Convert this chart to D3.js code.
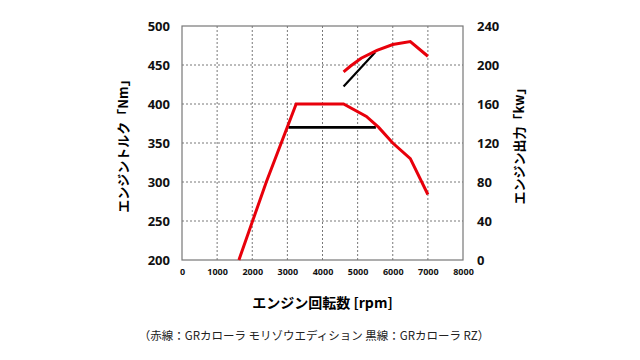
<!DOCTYPE html>
<html>
<head>
<meta charset="utf-8">
<script src="https://cdn.jsdelivr.net/npm/d3@7"></script>
<style>
  body { margin: 0; background: #fff; }
  svg text { font-family: "Noto Sans CJK JP", "Noto Sans", sans-serif; }
</style>
</head>
<body>
<div id="chart"></div>
<script>
// red = モリゾウエディション, black = RZ
const redTorque = [[1620, 200], [2400, 300], [3250, 400], [4600, 400], [5250, 384], [5600, 370], [6000, 350], [6500, 330], [7000, 284]];
const redPower = [[4600, 193], [4800, 199], [5100, 207], [5550, 215], [6000, 221], [6500, 224], [7000, 209]];
const blackTorque = [[3030, 370], [5520, 370]];
const blackPower = [[4600, 178], [5500, 213]];

const xTicks = [0, 1000, 2000, 3000, 4000, 5000, 6000, 7000, 8000];
const torqueTicks = [200, 250, 300, 350, 400, 450, 500];
const powerTicks = [0, 40, 80, 120, 160, 200, 240];

const width = 640, height = 360;
const plot = {left: 182, right: 463, top: 26, bottom: 260};

const svg = d3.select('#chart')
  .append('svg')
  .attr('width', width)
  .attr('height', height);

const x = d3.scaleLinear().domain([0, 8000]).range([plot.left, plot.right]);
const yL = d3.scaleLinear().domain([200, 500]).range([plot.bottom, plot.top]);
const yR = d3.scaleLinear().domain([0, 240]).range([plot.bottom, plot.top]);

// grid
svg.append('g')
  .selectAll('line')
  .data(xTicks.slice(1, -1))
  .enter()
  .append('line')
  .attr('x1', d => x(d)).attr('x2', d => x(d))
  .attr('y1', plot.top).attr('y2', plot.bottom)
  .attr('stroke', '#555').attr('stroke-width', 0.8)
  .attr('stroke-dasharray', '2,2');

svg.append('g')
  .selectAll('line')
  .data(torqueTicks.slice(1, -1))
  .enter()
  .append('line')
  .attr('x1', plot.left).attr('x2', plot.right)
  .attr('y1', d => yL(d)).attr('y2', d => yL(d))
  .attr('stroke', '#555').attr('stroke-width', 0.8)
  .attr('stroke-dasharray', '2,2');

// frame
svg.append('rect')
  .attr('x', plot.left).attr('y', plot.top)
  .attr('width', plot.right - plot.left).attr('height', plot.bottom - plot.top)
  .attr('fill', 'none').attr('stroke', '#777').attr('stroke-width', 1.2);

// axes
const xAxis = svg.append('g')
  .attr('transform', 'translate(0,' + plot.bottom + ')')
  .call(d3.axisBottom(x).tickValues(xTicks).tickFormat(d3.format('d')).tickSize(0).tickPadding(9));
const lAxis = svg.append('g')
  .attr('transform', 'translate(' + plot.left + ',0)')
  .call(d3.axisLeft(yL).tickValues(torqueTicks).tickSize(0).tickPadding(12));
const rAxis = svg.append('g')
  .attr('transform', 'translate(' + plot.right + ',0)')
  .call(d3.axisRight(yR).tickValues(powerTicks).tickSize(0).tickPadding(14));

[xAxis, lAxis, rAxis].forEach(a => {
  a.select('.domain').remove();
  a.selectAll('text')
    .style('font-family', '"Open Sans", sans-serif')
    .style('font-weight', 'bold')
    .attr('fill', '#111');
});
xAxis.selectAll('text').style('font-size', '9px');
lAxis.selectAll('text').style('font-size', '13px');
rAxis.selectAll('text').style('font-size', '13px');

// lines
const line = (ys) => d3.line().x(d => x(d[0])).y(d => ys(d[1]));

svg.append('path').datum(blackTorque)
  .attr('d', line(yL)).attr('fill', 'none')
  .attr('stroke', '#000').attr('stroke-width', 2.6);
svg.append('path').datum(blackPower)
  .attr('d', line(yR)).attr('fill', 'none')
  .attr('stroke', '#000').attr('stroke-width', 2.2);
svg.append('path').datum(redTorque)
  .attr('d', line(yL)).attr('fill', 'none')
  .attr('stroke', '#e8000b').attr('stroke-width', 3);
svg.append('path').datum(redPower)
  .attr('d', line(yR)).attr('fill', 'none')
  .attr('stroke', '#e8000b').attr('stroke-width', 3);

// titles
svg.append('text')
  .attr('x', (plot.left + plot.right) / 2).attr('y', 308)
  .attr('text-anchor', 'middle')
  .style('font-size', '14px').style('font-weight', 'bold')
  .text('エンジン回転数 [rpm]');

svg.append('text')
  .attr('transform', 'translate(128,' + ((plot.top + plot.bottom) / 2) + ') rotate(-90)')
  .attr('text-anchor', 'middle')
  .style('font-size', '13px').style('font-weight', 'bold')
  .text('エンジントルク「Nm」');

svg.append('text')
  .attr('transform', 'translate(524,' + ((plot.top + plot.bottom) / 2) + ') rotate(-90)')
  .attr('text-anchor', 'middle')
  .style('font-size', '13px').style('font-weight', 'bold')
  .text('エンジン出力「kw」');

svg.append('text')
  .attr('x', 314).attr('y', 340)
  .attr('text-anchor', 'middle')
  .style('font-size', '11.5px')
  .attr('fill', '#222')
  .text('（赤線：GRカローラ モリゾウエディション 黒線：GRカローラ RZ）');
</script>
</body>
</html>
